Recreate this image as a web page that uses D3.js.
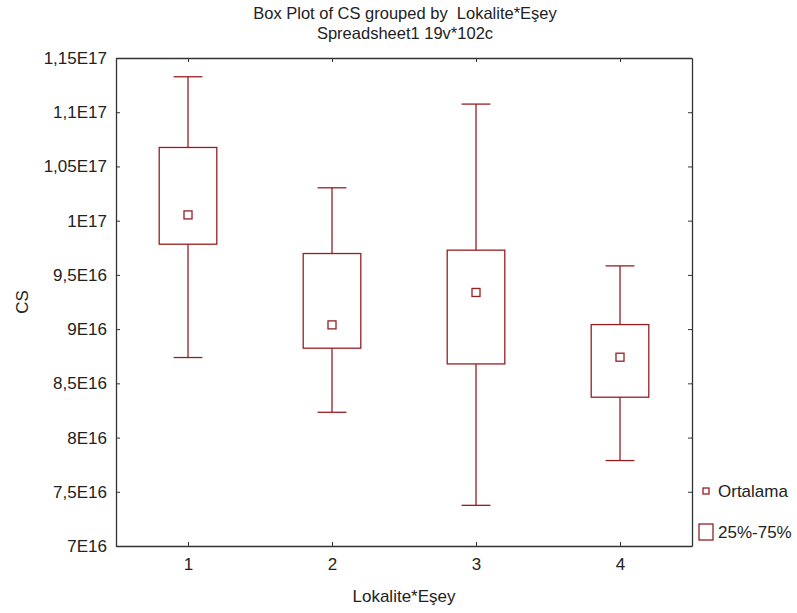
<!DOCTYPE html>
<html>
<head>
<meta charset="utf-8">
<script src="https://cdn.jsdelivr.net/npm/d3@7"></script>
<style>
  body { margin: 0; background: #fff; }
  text { font-family: "Liberation Sans", Arial, sans-serif; fill: #222; }
</style>
</head>
<body>
<svg id="chart"></svg>
<script>
// values
var groups = [1, 2, 3, 4];
var whiskerHigh = [1.1327e17, 1.0303e17, 1.1075e17, 9.583e16];
var boxHigh     = [1.0675e17, 9.697e16, 9.728e16, 9.042e16];
var means       = [1.0053e17, 9.039e16, 9.338e16, 8.741e16];
var boxLow      = [9.783e16, 8.824e16, 8.679e16, 8.372e16];
var whiskerLow  = [8.738e16, 8.233e16, 7.375e16, 7.788e16];

var yTicks = [7e16, 7.5e16, 8e16, 8.5e16, 9e16, 9.5e16, 1e17, 1.05e17, 1.1e17, 1.15e17];
var yTickLabels = ["7E16", "7,5E16", "8E16", "8,5E16", "9E16", "9,5E16", "1E17", "1,05E17", "1,1E17", "1,15E17"];

var data = groups.map(function(g, i) {
  return {g: g, wh: whiskerHigh[i], bh: boxHigh[i], m: means[i], bl: boxLow[i], wl: whiskerLow[i]};
});

var W = 797, H = 613;
var margin = {top: 58, right: 105, bottom: 67, left: 116};
var width = W - margin.left - margin.right;
var height = H - margin.top - margin.bottom;
var red = "#961e22";

var svg = d3.select("#chart").attr("width", W).attr("height", H);
var chart = svg.append("g")
  .attr("transform", "translate(" + margin.left + "," + margin.top + ")");

var x = d3.scaleLinear().domain([0.5, 4.5]).range([0, width]);
var y = d3.scaleLinear().domain([7e16, 1.15e17]).range([height, 0]);

function fmt(d) { return yTickLabels[yTicks.indexOf(d)]; }

// axes, ticks pointing inward
chart.append("g")
  .attr("class", "y axis")
  .call(d3.axisLeft(y).tickValues(yTicks).tickFormat(fmt).tickSizeInner(-4).tickSizeOuter(0).tickPadding(9));
chart.append("g")
  .attr("transform", "translate(" + width + ",0)")
  .call(d3.axisRight(y).tickValues(yTicks).tickFormat("").tickSizeInner(-4).tickSizeOuter(0));
chart.append("g")
  .attr("transform", "translate(0," + height + ")")
  .call(d3.axisBottom(x).tickValues(groups).tickFormat(d3.format("d")).tickSizeInner(-4).tickSizeOuter(0).tickPadding(12));
chart.append("g")
  .call(d3.axisTop(x).tickValues(groups).tickFormat("").tickSizeInner(-4).tickSizeOuter(0));

chart.selectAll(".domain").attr("stroke", "#333").attr("stroke-width", 1.3);
chart.selectAll(".tick line").attr("stroke", "#333");
chart.selectAll(".tick text").style("font-size", "17px").attr("fill", "#222");

// box plots
var bw = x(1.2) - x(1);
var cw = x(1.1) - x(1);
var box = chart.selectAll(".box")
  .data(data)
  .enter().append("g")
  .attr("class", "box")
  .attr("fill", "none")
  .attr("stroke", red)
  .attr("stroke-width", 1.3);

box.append("line")
  .attr("x1", function(d) { return x(d.g); })
  .attr("x2", function(d) { return x(d.g); })
  .attr("y1", function(d) { return y(d.wh); })
  .attr("y2", function(d) { return y(d.bh); });
box.append("line")
  .attr("x1", function(d) { return x(d.g); })
  .attr("x2", function(d) { return x(d.g); })
  .attr("y1", function(d) { return y(d.bl); })
  .attr("y2", function(d) { return y(d.wl); });
box.append("line")
  .attr("x1", function(d) { return x(d.g) - cw; })
  .attr("x2", function(d) { return x(d.g) + cw; })
  .attr("y1", function(d) { return y(d.wh); })
  .attr("y2", function(d) { return y(d.wh); });
box.append("line")
  .attr("x1", function(d) { return x(d.g) - cw; })
  .attr("x2", function(d) { return x(d.g) + cw; })
  .attr("y1", function(d) { return y(d.wl); })
  .attr("y2", function(d) { return y(d.wl); });
box.append("rect")
  .attr("x", function(d) { return x(d.g) - bw; })
  .attr("y", function(d) { return y(d.bh); })
  .attr("width", bw * 2)
  .attr("height", function(d) { return y(d.bl) - y(d.bh); });
box.append("rect")
  .attr("x", function(d) { return x(d.g) - 4; })
  .attr("y", function(d) { return y(d.m) - 4; })
  .attr("width", 8)
  .attr("height", 8);

// titles
svg.append("text")
  .attr("x", 405).attr("y", 19)
  .style("text-anchor", "middle").style("font-size", "16.5px")
  .style("white-space", "pre")
  .text("Box Plot of CS grouped by  Lokalite*Eşey");
svg.append("text")
  .attr("x", 405).attr("y", 39)
  .style("text-anchor", "middle").style("font-size", "16.5px")
  .text("Spreadsheet1 19v*102c");

svg.append("text")
  .attr("transform", "rotate(-90)")
  .attr("x", -(margin.top + height / 2))
  .attr("y", 28)
  .style("text-anchor", "middle").style("font-size", "17px")
  .text("CS");
svg.append("text")
  .attr("x", margin.left + width / 2)
  .attr("y", 602)
  .style("text-anchor", "middle").style("font-size", "17px")
  .text("Lokalite*Eşey");

// legend
var legend = svg.append("g");
legend.append("rect")
  .attr("x", 703).attr("y", 488).attr("width", 6).attr("height", 6)
  .attr("fill", "none").attr("stroke", red).attr("stroke-width", 1.3);
legend.append("text")
  .attr("x", 718).attr("y", 497).style("font-size", "17px").text("Ortalama");
legend.append("rect")
  .attr("x", 699).attr("y", 524).attr("width", 14).attr("height", 16)
  .attr("fill", "none").attr("stroke", red).attr("stroke-width", 1.3);
legend.append("text")
  .attr("x", 718).attr("y", 538).style("font-size", "17px").text("25%-75%");
</script>
</body>
</html>
